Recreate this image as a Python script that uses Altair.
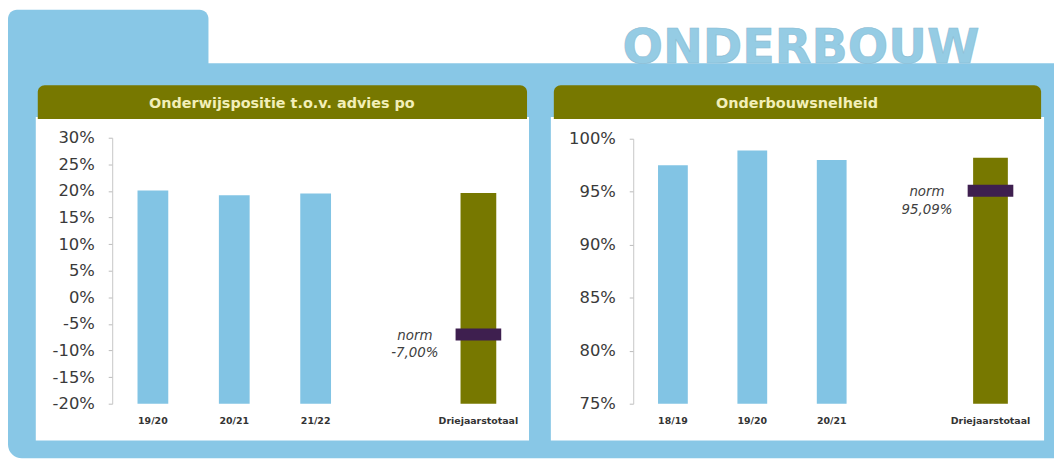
import altair as alt
import pandas as pd

# ---------------- data ----------------
page_title = "ONDERBOUW"
total_label = "Driejaarstotaal"

left_title = "Onderwijspositie t.o.v. advies po"
left_years = ["19/20", "20/21", "21/22"]
left_values = [0.201, 0.192, 0.195]
left_total = 0.196
left_norm = -0.07
left_ticks = [-0.20, -0.15, -0.10, -0.05, 0.0, 0.05, 0.10, 0.15, 0.20, 0.25, 0.30]

right_title = "Onderbouwsnelheid"
right_years = ["18/19", "19/20", "20/21"]
right_values = [0.975, 0.989, 0.980]
right_total = 0.982
right_norm = 0.9509
right_ticks = [0.75, 0.80, 0.85, 0.90, 0.95, 1.00]

# ---------------- style ----------------
W, H = 1054, 452
BLUE_BG = "#88C7E6"
BAR_BLUE = "#82C4E4"
OLIVE = "#777800"
PURPLE = "#3E1F4F"
CREAM = "#F2EFB8"
FONT = "DejaVu Sans"

one = pd.DataFrame({"d": [0]})


def rect(x, x2, y, y2, color, **kw):
    return alt.Chart(one).mark_rect(color=color, **kw).encode(
        x=alt.value(x), x2=alt.value(x2), y=alt.value(y), y2=alt.value(y2)
    )


def label(text, x, y, **kw):
    return alt.Chart(one).mark_text(text=text, **kw).encode(
        x=alt.value(x), y=alt.value(y)
    )


def panel(years, values, total, norm, ticks, xrange, yrange, xoff, bar_size):
    lo, hi = ticks[0], ticks[-1]
    domain = years + [" ", total_label]
    norm_txt = "norm\n" + f"{norm * 100:.2f}%".replace(".", ",")

    df_bars = pd.DataFrame({"cat": years, "val": values})
    df_total = pd.DataFrame({"cat": [total_label], "val": [total]})
    df_norm = pd.DataFrame({"cat": [total_label], "val": [norm], "label": [norm_txt]})

    x_enc = alt.X(
        "cat:N",
        scale=alt.Scale(domain=domain, range=xrange, paddingInner=0.62, paddingOuter=0.31),
        axis=alt.Axis(
            title=None, orient="bottom", offset=-(H - yrange[0]), domain=False, ticks=False,
            labelAngle=0, labelFont=FONT, labelFontSize=9.5, labelFontWeight="bold",
            labelColor="#333333", labelPadding=12, zindex=2,
        ),
        sort=domain,
    )
    y_enc = alt.Y(
        "val:Q",
        scale=alt.Scale(domain=[lo, hi], range=yrange, zero=False, nice=False),
        axis=alt.Axis(
            title=None, orient="left", offset=-xoff, values=ticks, format=".0%",
            labelExpr="replace(datum.label, '\u2212', '-')",
            grid=False, domainColor="#C8C8C8", tickColor="#BBBBBB", tickSize=4,
            labelFont=FONT, labelFontSize=16.5, labelColor="#3A3A3A", labelPadding=14,
            zindex=2,
        ),
    )

    bars = alt.Chart(df_bars).mark_bar(color=BAR_BLUE, size=bar_size).encode(
        x=x_enc, y=y_enc, y2=alt.datum(lo)
    )
    tot = alt.Chart(df_total).mark_bar(color=OLIVE, size=bar_size + 5).encode(
        x=x_enc, y=y_enc, y2=alt.datum(lo)
    )
    tick = alt.Chart(df_norm).mark_tick(color=PURPLE, thickness=12, size=46, opacity=1).encode(
        x=x_enc, y=y_enc
    )
    txt = alt.Chart(df_norm).mark_text(
        align="center", baseline="middle", dx=-64, dy=1, lineBreak="\n", lineHeight=18,
        font=FONT, fontStyle="italic", fontSize=13.5, color="#404040",
    ).encode(x=x_enc, y=y_enc, text="label:N")
    return alt.layer(bars, tot, tick, txt)


decor = [
    rect(0, 202, 0, 62, BLUE_BG, cornerRadiusTopLeft=9, cornerRadiusTopRight=9),
    rect(0, W, 54, H, BLUE_BG, cornerRadiusBottomLeft=14),
    rect(28, 525, 108, 434, "white"),
    rect(547, 1044, 108, 434, "white"),
    rect(30, 523, 76, 110, OLIVE, cornerRadiusTopLeft=7, cornerRadiusTopRight=7),
    rect(550, 1041, 76, 110, OLIVE, cornerRadiusTopLeft=7, cornerRadiusTopRight=7),
    label(page_title, 799, 54, align="center", baseline="alphabetic", font=FONT,
          fontSize=48, fontWeight="bold", color="#95CCE4", stroke="#8ABBD3", strokeWidth=0.6),
    label(left_title, 276, 95, align="center", baseline="middle", font=FONT,
          fontSize=14.5, fontWeight="bold", color=CREAM),
    label(right_title, 795, 95, align="center", baseline="middle", font=FONT,
          fontSize=14.5, fontWeight="bold", color=CREAM),
]

left = panel(left_years, left_values, left_total, left_norm, left_ticks,
             [105, 515], [397, 129], 105, 31)
right = panel(right_years, right_values, right_total, right_norm, right_ticks,
              [630, 1030], [397, 130], 630, 30)

chart = alt.layer(*decor, left, right).resolve_scale(
    x="independent", y="independent"
).properties(
    width=W, height=H, padding=0, autosize=alt.AutoSizeParams(type="none"),
    background="white",
).configure_view(stroke=None)

chart.save("out.html", embed_options={"renderer": "svg", "actions": False})
